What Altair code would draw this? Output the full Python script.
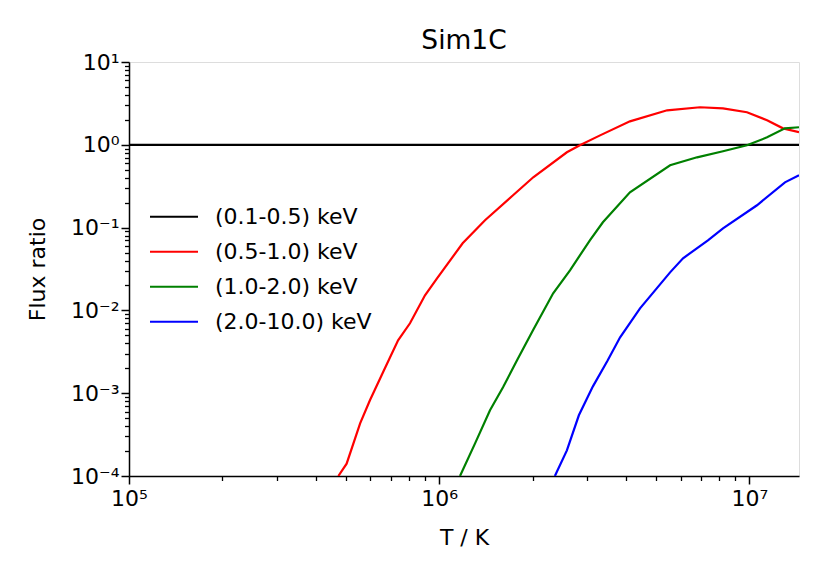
import altair as alt
import pandas as pd

# ---- data ----
band_names = ["(0.1-0.5) keV", "(0.5-1.0) keV", "(1.0-2.0) keV", "(2.0-10.0) keV"]
band_colors = ["#000000", "#ff0000", "#008000", "#0000ff"]

t_soft = [1.0e5, 1.445e7]
r_soft = [1.0, 1.0]

t_red = [4.73e5, 5.03e5, 5.56e5, 5.98e5, 6.59e5, 7.37e5, 8.05e5, 9.00e5, 9.84e5,
         1.19e6, 1.405e6, 1.73e6, 2.01e6, 2.58e6, 2.84e6, 3.30e6, 4.12e6, 5.43e6,
         6.93e6, 8.22e6, 9.82e6, 1.14e7, 1.283e7, 1.445e7]
r_red = [1.0e-4, 1.41e-4, 4.33e-4, 8.21e-4, 1.79e-3, 4.35e-3, 6.99e-3, 1.52e-2, 2.44e-2,
         6.46e-2, 0.1225, 0.2455, 0.405, 0.812, 0.986, 1.30, 1.92, 2.61,
         2.84, 2.76, 2.47, 1.98, 1.58, 1.42]

t_green = [1.167e6, 1.305e6, 1.458e6, 1.606e6, 1.782e6, 2.006e6, 2.33e6, 2.64e6, 3.06e6,
           3.37e6, 4.12e6, 5.55e6, 6.78e6, 8.22e6, 9.82e6, 1.14e7, 1.302e7, 1.445e7]
r_green = [1.0e-4, 2.48e-4, 6.22e-4, 1.18e-3, 2.50e-3, 5.75e-3, 1.61e-2, 3.05e-2, 7.02e-2,
           0.116, 0.267, 0.566, 0.706, 0.835, 0.986, 1.23, 1.58, 1.63]

t_blue = [2.36e6, 2.58e6, 2.82e6, 3.13e6, 3.48e6, 3.83e6, 4.44e6, 5.55e6, 6.11e6,
          7.35e6, 8.22e6, 1.058e7, 1.302e7, 1.445e7]
r_blue = [1.0e-4, 2.04e-4, 5.41e-4, 1.21e-3, 2.43e-3, 4.73e-3, 1.06e-2, 2.88e-2, 4.26e-2,
          7.02e-2, 9.80e-2, 0.186, 0.352, 0.428]

x_major = [1e5, 1e6, 1e7]
x_minor = [m * 10 ** e for e in (5, 6) for m in range(2, 10)]
y_major = [1e-4, 1e-3, 1e-2, 1e-1, 1e0, 1e1]
y_minor = [m * 10.0 ** e for e in (-4, -3, -2, -1, 0) for m in range(2, 10)]

x_domain = [1e5, 1.445e7]
y_domain = [1e-4, 1e1]

# ---- build table ----
rows = []
for name, ts, rs in zip(band_names, [t_soft, t_red, t_green, t_blue],
                        [r_soft, r_red, r_green, r_blue]):
    for i, (t, r) in enumerate(zip(ts, rs)):
        rows.append({"T": t, "ratio": r, "band": name, "order": i})
df = pd.DataFrame(rows)

FONT = "DejaVu Sans"
sup_expr = ("'10' + (round(log(datum.value)/LN10) < 0 ? '\u207b' : '') + "
            "['\u2070','\u00b9','\u00b2','\u00b3','\u2074','\u2075','\u2076','\u2077','\u2078','\u2079']"
            "[abs(round(log(datum.value)/LN10))]")

xscale = alt.Scale(type="log", domain=x_domain, nice=False)
yscale = alt.Scale(type="log", domain=y_domain, nice=False)

main = alt.Chart(df).mark_line(clip=True, strokeWidth=2.2).encode(
    x=alt.X("T:Q", scale=xscale,
            axis=alt.Axis(values=x_major, labelExpr=sup_expr, title="T / K",
                          orient="bottom", tickSize=8, tickWidth=1.5, tickColor="black",
                          domainColor="black", domainWidth=1.5, grid=False,
                          labelFont=FONT, labelFontSize=22, labelColor="black",
                          labelPadding=4, labelBaseline="top", labelFlush=False,
                          titleFont=FONT, titleFontSize=22, titleFontWeight="normal",
                          titleColor="black", titleY=61, titleBaseline="middle")),
    y=alt.Y("ratio:Q", scale=yscale,
            axis=alt.Axis(values=y_major, labelExpr=sup_expr, title="Flux ratio",
                          orient="left", tickSize=8, tickWidth=1.5, tickColor="black",
                          domainColor="black", domainWidth=1.5, grid=False,
                          labelFont=FONT, labelFontSize=22, labelColor="black",
                          labelPadding=2, labelFlush=False, labelBaseline="middle",
                          titleFont=FONT, titleFontSize=22, titleFontWeight="normal",
                          titleColor="black", titleX=-92, titleY=207,
                          titleBaseline="middle", titleAngle=270)),
    color=alt.Color("band:N",
                    scale=alt.Scale(domain=band_names, range=band_colors),
                    legend=alt.Legend(title=None, orient="none", legendX=20, legendY=137.5,
                                      symbolType="stroke", symbolSize=2304,
                                      symbolStrokeWidth=2, labelFont=FONT,
                                      labelFontSize=22, labelColor="black",
                                      labelOffset=16, rowPadding=0, clipHeight=34.7,
                                      padding=0, labelLimit=400)),
    order="order:Q",
)

minor_df = pd.DataFrame({"T": [x_domain[0]], "ratio": [y_domain[0]]})
minor = alt.Chart(minor_df).mark_point(opacity=0).encode(
    x=alt.X("T:Q", scale=xscale,
            axis=alt.Axis(values=x_minor, labels=False, title=None, orient="bottom",
                          tickSize=4.5, tickWidth=1.3, tickColor="black",
                          domain=False, grid=False)),
    y=alt.Y("ratio:Q", scale=yscale,
            axis=alt.Axis(values=y_minor, labels=False, title=None, orient="left",
                          tickSize=4.5, tickWidth=1.3, tickColor="black",
                          domain=False, grid=False)),
)

chart = alt.layer(main, minor).resolve_axis(x="independent", y="independent").properties(
    width=670, height=414,
    padding={"left": 121, "top": 54, "right": 15, "bottom": 80},
    autosize=alt.AutoSizeParams(type="none"),
    title=alt.TitleParams("Sim1C", font=FONT, fontSize=26.5, fontWeight="normal",
                          color="black", baseline="bottom", offset=10, dy=40,
                          frame="group", anchor="middle"),
).configure_view(stroke="black", strokeWidth=1.5).configure(background="white")

chart.save("out.html", embed_options={"renderer": "svg", "actions": False})
